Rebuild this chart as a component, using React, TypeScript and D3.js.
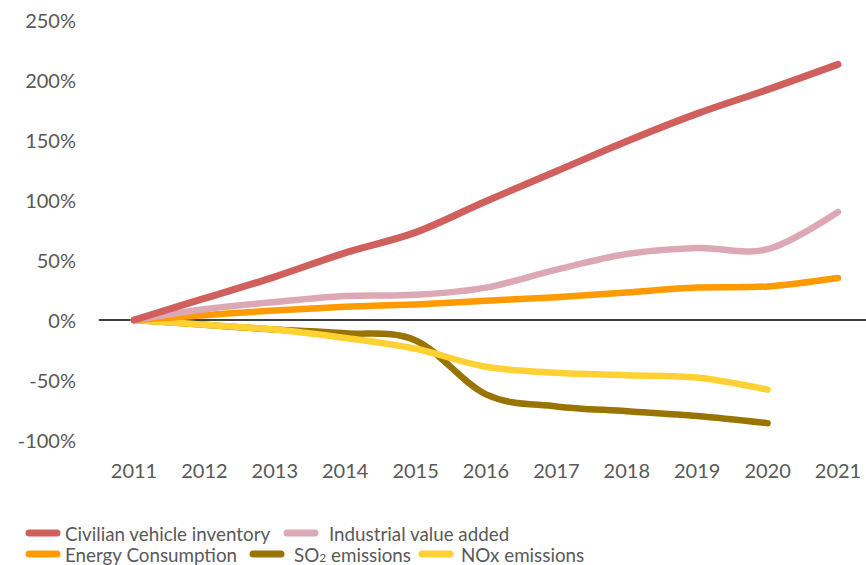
import React from "react";
import * as d3 from "d3";

const years = ["2011","2012","2013","2014","2015","2016","2017","2018","2019","2020","2021"];
const yTicks = [250, 200, 150, 100, 50, 0, -50, -100];
const civilian = [0, 18, 36, 56, 73, 99, 124, 149, 172, 192, 213];
const industrial = [0, 9, 15, 20, 21, 27, 42, 55, 60, 59, 90];
const energy = [0, 4, 8, 11, 13, 16, 19, 23, 27, 28, 35];
const so2 = [0, -4, -8, -11, -17, -62, -72, -76, -80, -86];
const nox = [0, -4, -8, -15, -24, -39, -44, -46, -48, -58];

const seriesDefs = [
  { name: "Civilian vehicle inventory", values: civilian, color: "#d0605e", width: 7 },
  { name: "Industrial value added", values: industrial, color: "#dca8b5", width: 6.5 },
  { name: "Energy Consumption", values: energy, color: "#ff9b00", width: 6.5 },
  { name: "SO2 emissions", values: so2, color: "#9a7400", width: 6.5 },
  { name: "NOx emissions", values: nox, color: "#ffd133", width: 6.5 },
];

const FONT = "Lato, 'Noto Sans', sans-serif";
const TEXT = "#595959";

export default function App() {
  const x = d3.scalePoint<string>().domain(years).range([134, 838]);
  const y = d3.scaleLinear().domain([-100, 250]).range([440, 20]);
  const step = x.step();
  const line = d3
    .line<number>()
    .x((_, i) => x(years[i]) as number)
    .y((d) => y(d))
    .curve(d3.curveCardinal.tension(0));

  const drawOrder = [3, 4, 2, 1, 0];

  const legendRows = [
    [
      { idx: 0, sx: 29, tx: 65 },
      { idx: 1, sx: 287, tx: 329 },
    ],
    [
      { idx: 2, sx: 29, tx: 65 },
      { idx: 3, sx: 253, tx: 294 },
      { idx: 4, sx: 422, tx: 461 },
    ],
  ];
  const rowY = [533, 554];

  return (
    <svg
      width={866}
      height={565}
      style={{ position: "absolute", left: 0, top: 0, background: "#fff" }}
      fontFamily={FONT}
    >
      {yTicks.map((t) => (
        <text
          key={t}
          x={76}
          y={y(t)}
          textAnchor="end"
          dominantBaseline="central"
          fontSize={20}
          fill={TEXT}
        >
          {t + "%"}
        </text>
      ))}
      {years.map((yr) => (
        <text
          key={yr}
          x={x(yr) as number}
          y={470}
          textAnchor="middle"
          dominantBaseline="central"
          fontSize={20}
          fill={TEXT}
        >
          {yr}
        </text>
      ))}
      <line
        x1={(x(years[0]) as number) - step / 2}
        x2={866}
        y1={y(0)}
        y2={y(0)}
        stroke="#000"
        strokeWidth={1.5}
      />
      {drawOrder.map((i) => {
        const s = seriesDefs[i];
        return (
          <path
            key={s.name}
            d={line(s.values) || ""}
            fill="none"
            stroke={s.color}
            strokeWidth={s.width}
            strokeLinecap="round"
            strokeLinejoin="round"
          />
        );
      })}
      {legendRows.map((row, r) =>
        row.map((it) => {
          const s = seriesDefs[it.idx];
          return (
            <g key={s.name}>
              <line
                x1={it.sx}
                x2={it.sx + 28}
                y1={rowY[r]}
                y2={rowY[r]}
                stroke={s.color}
                strokeWidth={7}
                strokeLinecap="round"
              />
              <text
                x={it.tx}
                y={rowY[r]}
                dominantBaseline="central"
                fontSize={18.8}
                fill={TEXT}
              >
                {s.name === "SO2 emissions" ? (
                  <>
                    SO
                    <tspan fontSize={12} dy={3}>2</tspan>
                    <tspan dy={-3}> emissions</tspan>
                  </>
                ) : (
                  s.name
                )}
              </text>
            </g>
          );
        })
      )}
    </svg>
  );
}
